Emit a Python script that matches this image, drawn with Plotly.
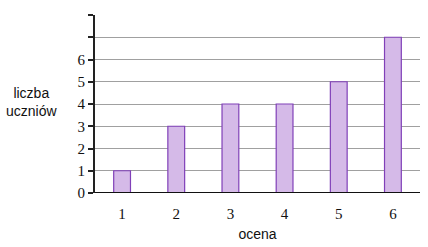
import plotly.graph_objects as go

grades = [1, 2, 3, 4, 5, 6]
counts = [1, 3, 4, 4, 5, 7]
y_ticks = [0, 1, 2, 3, 4, 5, 6, 7, 8]
y_tick_labels = ["0", "1", "2", "3", "4", "5", "6", "", ""]

fig = go.Figure()
fig.add_trace(go.Bar(
    x=grades, y=counts, width=0.31,
    marker=dict(color="#D5BAE8", line=dict(color="#8040B8", width=1.2)),
))

fig.update_layout(
    width=428, height=247,
    margin=dict(l=95, r=8, t=15, b=54),
    paper_bgcolor="white", plot_bgcolor="white",
    showlegend=False,
    xaxis=dict(
        range=[0.5, 6.5], tickvals=grades, ticktext=[str(g) for g in grades],
        showgrid=False, zeroline=False, showline=False,
        tickfont=dict(family="Liberation Serif", size=15, color="#111"),
        ticks="", ticklabelstandoff=10,
        title=dict(text="ocena", font=dict(family="Liberation Sans", size=14, color="#111"), standoff=8),
    ),
    yaxis=dict(
        range=[0, 8], tickvals=y_ticks, ticktext=y_tick_labels,
        showgrid=True, gridcolor="#A0A0A0", gridwidth=1.3,
        zeroline=False, showline=True, linecolor="#222", linewidth=2,
        ticks="outside", ticklen=5, tickcolor="#222", tickwidth=1.5,
        tickfont=dict(family="Liberation Serif", size=15, color="#111"),
    ),
    annotations=[dict(
        text="liczba<br>uczniów", xref="paper", yref="paper", x=-0.195, y=0.51,
        showarrow=False, xanchor="center", yanchor="middle",
        font=dict(family="Liberation Sans", size=14, color="#111"),
    )],
)
fig.add_shape(type="line", xref="paper", yref="y", x0=0, x1=1, y0=0, y1=0,
              line=dict(color="#111", width=2))

fig.write_html("out.html")
